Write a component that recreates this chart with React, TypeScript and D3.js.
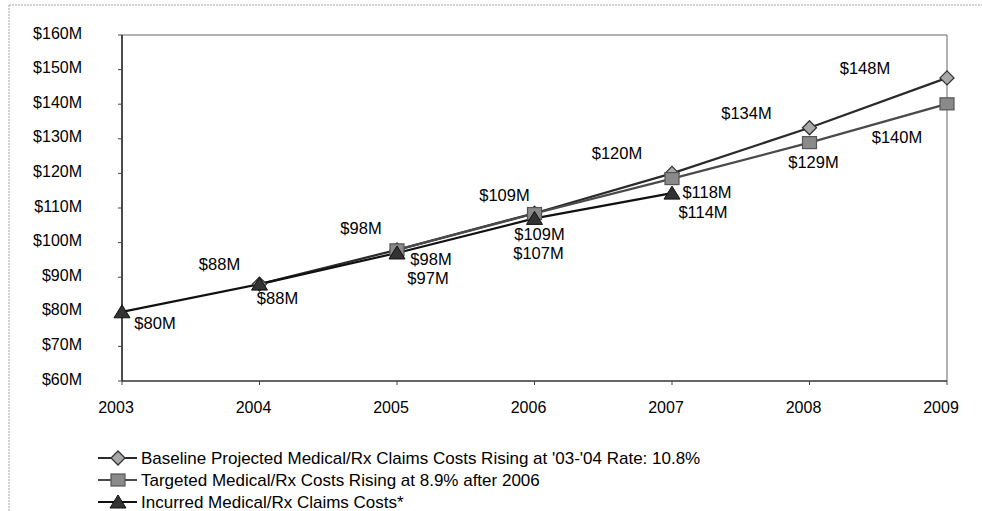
import React from "react";
import * as d3 from "d3";

const years = [2003, 2004, 2005, 2006, 2007, 2008, 2009];
const yTicks = [60, 70, 80, 90, 100, 110, 120, 130, 140, 150, 160];

const baselineYears = [2004, 2005, 2006, 2007, 2008, 2009];
const baselineValues = [88, 97.9, 108.5, 120, 133.2, 147.6];
const baselineLabels = ["$88M", "$98M", "$109M", "$120M", "$134M", "$148M"];

const targetedYears = [2005, 2006, 2007, 2008, 2009];
const targetedValues = [97.9, 108.4, 118.5, 128.9, 140.1];
const targetedLabels = ["$98M", "$109M", "$118M", "$129M", "$140M"];

const incurredYears = [2003, 2004, 2005, 2006, 2007];
const incurredValues = [80, 88, 97, 107, 114.3];
const incurredLabels = ["$80M", "$88M", "$97M", "$107M", "$114M"];

const legendLabels = [
  "Baseline Projected Medical/Rx Claims Costs Rising at '03-'04 Rate: 10.8%",
  "Targeted Medical/Rx Costs Rising at 8.9% after 2006",
  "Incurred Medical/Rx Claims Costs*",
];

// label placement offsets (layout only)
const baselineOffsets = [[-40, -20], [-36, -22], [-30, -18], [-55, -20], [-63, -15], [-82, -10]];
const targetedOffsets = [[34, 9], [5, 20], [35, 13], [4, 19], [-50, 33]];
const incurredOffsets = [[33, 11], [18, 14], [31, 25], [4, 35], [31, 19]];

const W = 982;
const H = 511;
const left = 122;
const right = 947;
const top = 35;
const bottom = 381;
const FONT = "'Liberation Sans', Arial, sans-serif";

const Diamond = ({ x, y }: { x: number; y: number }) => (
  <path
    d={`M${x},${y - 7}L${x + 7},${y}L${x},${y + 7}L${x - 7},${y}Z`}
    fill="#a8a8a8"
    stroke="#333"
    strokeWidth={1.3}
  />
);
const Square = ({ x, y }: { x: number; y: number }) => (
  <rect x={x - 7} y={y - 6} width={14} height={12} fill="#8a8a8a" stroke="#555" strokeWidth={1.2} />
);
const Triangle = ({ x, y }: { x: number; y: number }) => (
  <path d={`M${x},${y - 7}L${x + 8},${y + 6}L${x - 8},${y + 6}Z`} fill="#333" stroke="#111" strokeWidth={1} />
);

export default function App() {
  const x = d3.scaleLinear().domain([2003, 2009]).range([left, right]);
  const y = d3.scaleLinear().domain([60, 160]).range([bottom, top]);
  const line = d3
    .line<[number, number]>()
    .x((d) => x(d[0]))
    .y((d) => y(d[1]));

  const series = [
    { yrs: baselineYears, vals: baselineValues, labels: baselineLabels, offs: baselineOffsets, color: "#2a2a2a", M: Diamond },
    { yrs: targetedYears, vals: targetedValues, labels: targetedLabels, offs: targetedOffsets, color: "#4a4a4a", M: Square },
    { yrs: incurredYears, vals: incurredValues, labels: incurredLabels, offs: incurredOffsets, color: "#111", M: Triangle },
  ];

  return (
    <svg width={W} height={H} style={{ position: "absolute", left: 0, top: 0, fontFamily: FONT }}>
      <rect x={0} y={0} width={W} height={H} fill="#fff" />
      {/* outer scan border */}
      <line x1={9} y1={5} x2={W} y2={5} stroke="#c4c4c4" strokeWidth={1.5} strokeDasharray="2,1" />
      <line x1={9} y1={5} x2={9} y2={H} stroke="#c4c4c4" strokeWidth={1.5} strokeDasharray="2,1" />

      {/* plot frame */}
      <line x1={left} y1={top} x2={right} y2={top} stroke="#666" strokeWidth={1} />
      <line x1={right} y1={top} x2={right} y2={bottom} stroke="#666" strokeWidth={1} />
      <line x1={left} y1={bottom} x2={right} y2={bottom} stroke="#333" strokeWidth={1.3} />
      <line x1={left} y1={top} x2={left} y2={bottom} stroke="#111" strokeWidth={1.5} />

      {yTicks.map((t) => (
        <g key={t}>
          <line x1={left - 4} x2={left} y1={y(t)} y2={y(t)} stroke="#444" />
          <text x={82} y={y(t) - 2} textAnchor="end" dominantBaseline="central" fontSize={16} fill="#000">
            {`$${t}M`}
          </text>
        </g>
      ))}
      {years.map((yr) => (
        <g key={yr}>
          <line x1={x(yr)} x2={x(yr)} y1={bottom} y2={bottom + 4} stroke="#444" />
          <text x={x(yr) - 6} y={407} textAnchor="middle" dominantBaseline="central" fontSize={16} fill="#000">
            {yr}
          </text>
        </g>
      ))}

      {series.map((s, si) => {
        const pts: [number, number][] = s.yrs.map((yr, i) => [yr, s.vals[i]]);
        return (
          <g key={si}>
            <path d={line(pts) || ""} fill="none" stroke={s.color} strokeWidth={2.2} />
          </g>
        );
      })}
      {series.map((s, si) => (
        <g key={"m" + si}>
          {s.yrs.map((yr, i) => (
            <s.M key={yr} x={x(yr)} y={y(s.vals[i])} />
          ))}
        </g>
      ))}
      {series.map((s, si) => (
        <g key={"l" + si}>
          {s.yrs.map((yr, i) => (
            <text
              key={yr}
              x={x(yr) + s.offs[i][0]}
              y={y(s.vals[i]) + s.offs[i][1]}
              textAnchor="middle"
              dominantBaseline="central"
              fontSize={16.5}
              fill="#000"
            >
              {s.labels[i]}
            </text>
          ))}
        </g>
      ))}

      {/* legend */}
      {series.map((s, i) => {
        const ly = 458 + i * 22;
        return (
          <g key={"lg" + i}>
            <line x1={98} x2={137} y1={ly} y2={ly} stroke={s.color} strokeWidth={2} />
            <s.M x={118} y={ly} />
            <text x={141} y={ly} dominantBaseline="central" fontSize={17} fill="#000">
              {legendLabels[i]}
            </text>
          </g>
        );
      })}
    </svg>
  );
}
